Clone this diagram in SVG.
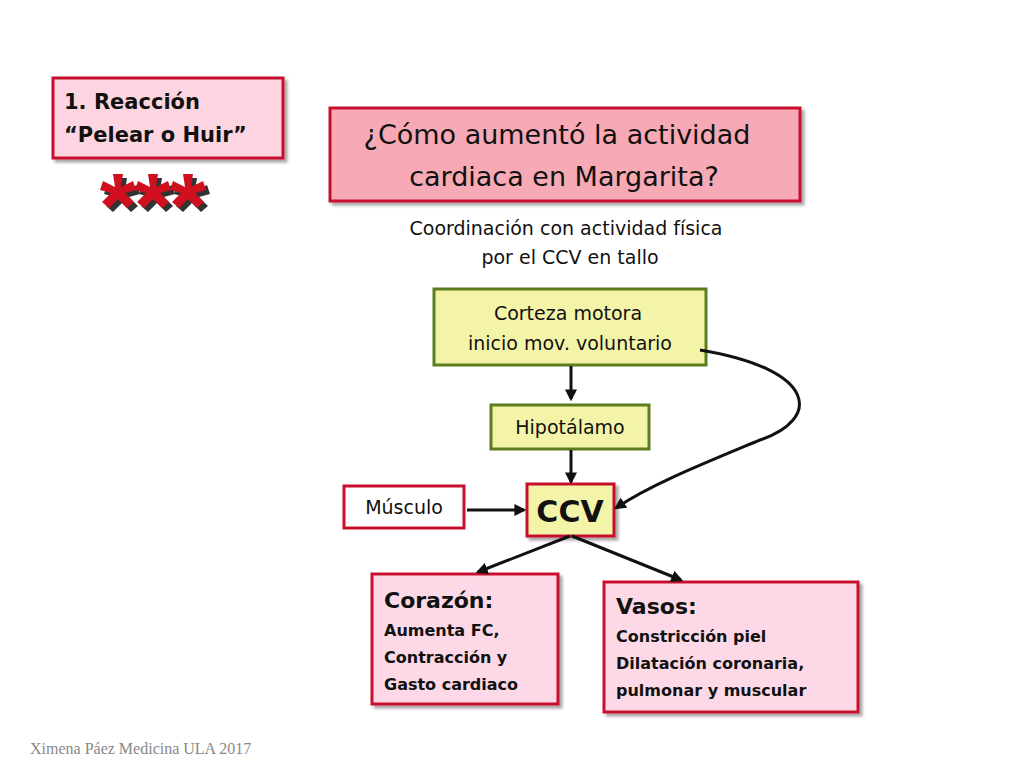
<svg xmlns="http://www.w3.org/2000/svg" width="1024" height="768" viewBox="0 0 1024 768">
<defs>
<style>
.t{font-family:"DejaVu Sans","Liberation Sans",sans-serif;fill:#111}
.b{font-weight:bold}
.red{stroke:#c8102e;stroke-width:3}
.grn{stroke:#5b7d1e;stroke-width:3}
.c{stroke:#111;stroke-width:3;fill:none;marker-end:url(#a)}
</style>
<marker id="a" markerWidth="12" markerHeight="12" refX="8" refY="5" orient="auto" markerUnits="userSpaceOnUse" viewBox="0 0 10 10"><path d="M0,0 L10,5 L0,10 z" fill="#111"/></marker>
<filter id="s" x="-10%" y="-10%" width="130%" height="130%"><feDropShadow dx="3" dy="3" stdDeviation="1.5" flood-color="#000" flood-opacity="0.35"/></filter>
<path id="st" d="M-5,-19 L5,-19 L3,-6 L15,-12 L18,-3 L7,0 L16,9 L9,15 L0,6 L-9,15 L-16,9 L-7,0 L-18,-3 L-15,-12 L-3,-6 z"/>
</defs>
<rect width="1024" height="768" fill="#fff"/>
<g id="n-reaccion"><rect x="53" y="78" width="230" height="80" fill="#fdd5e0" class="red" filter="url(#s)"/>
<text class="t b" x="64" y="109" font-size="21">1. Reacción</text><text class="t b" x="64" y="142" font-size="21">“Pelear o Huir”</text></g>
<g id="stars"><use href="#st" x="122" y="197" fill="#333"/><use href="#st" x="118" y="193" fill="#d0101e"/>
<use href="#st" x="157" y="197" fill="#333"/><use href="#st" x="153" y="193" fill="#d0101e"/>
<use href="#st" x="192" y="197" fill="#333"/><use href="#st" x="188" y="193" fill="#d0101e"/></g>
<g id="n-pregunta"><rect x="330" y="108" width="470" height="93" fill="#f8a9b6" class="red" filter="url(#s)"/>
<text class="t" x="557" y="144" font-size="27" text-anchor="middle">¿Cómo aumentó la actividad</text>
<text class="t" x="564" y="186" font-size="27" text-anchor="middle">cardiaca en Margarita?</text></g>
<g id="subtitle"><text class="t" x="566" y="235" font-size="19" text-anchor="middle" fill="#333">Coordinación con actividad física</text>
<text class="t" x="570" y="264" font-size="19" text-anchor="middle" fill="#333">por el CCV en tallo</text></g>
<g id="n-corteza"><rect x="434" y="289" width="272" height="76" fill="#f4f4a8" class="grn"/>
<text class="t" x="568" y="320" font-size="19" text-anchor="middle">Corteza motora</text>
<text class="t" x="570" y="350" font-size="19" text-anchor="middle">inicio mov. voluntario</text></g>
<g id="n-hipo"><rect x="491" y="405" width="158" height="44" fill="#f4f4a8" class="grn"/>
<text class="t" x="570" y="434" font-size="19" text-anchor="middle">Hipotálamo</text></g>
<g id="n-ccv"><rect x="527" y="484" width="87" height="52" fill="#f4f4a8" class="red" filter="url(#s)"/>
<text class="t b" x="570" y="522" font-size="30" text-anchor="middle">CCV</text></g>
<g id="n-musculo"><rect x="344" y="486" width="120" height="42" fill="#fff" class="red"/>
<text class="t" x="404" y="514" font-size="19" text-anchor="middle">Músculo</text></g>
<g id="n-corazon"><rect x="372" y="574" width="186" height="130" fill="#fdd8e6" class="red" filter="url(#s)"/>
<text class="t b" x="384" y="608" font-size="22">Corazón:</text>
<text class="t b" x="384" y="636" font-size="16">Aumenta FC,</text>
<text class="t b" x="384" y="663" font-size="16">Contracción y</text>
<text class="t b" x="384" y="690" font-size="16">Gasto cardiaco</text></g>
<g id="n-vasos"><rect x="604" y="582" width="254" height="130" fill="#fdd8e6" class="red" filter="url(#s)"/>
<text class="t b" x="616" y="614" font-size="22">Vasos:</text>
<text class="t b" x="616" y="642" font-size="16">Constricción piel</text>
<text class="t b" x="616" y="669" font-size="16">Dilatación coronaria,</text>
<text class="t b" x="616" y="696" font-size="16">pulmonar y muscular</text></g>
<g id="connectors">
<path class="c" d="M571,366 L571,399"/>
<path class="c" d="M571,450 L571,482"/>
<path class="c" d="M700,350 C820,370 820,420 760,440 C700,465 650,485 616,508"/>
<path class="c" d="M467,510 L524,510"/>
<path class="c" stroke-width="4" d="M570,536 L478,572"/>
<path class="c" stroke-width="4" d="M572,536 L681,580"/>
</g>
<text x="30" y="754" font-family="Liberation Serif,serif" font-size="16" fill="#888">Ximena Páez Medicina ULA 2017</text>
</svg>
